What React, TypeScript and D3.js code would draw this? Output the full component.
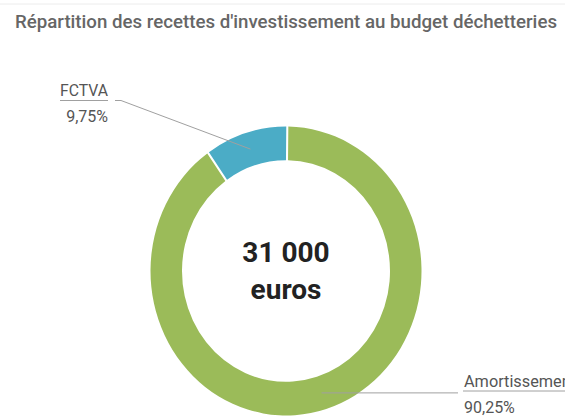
import * as d3 from 'd3'

const title = "Répartition des recettes d'investissement au budget déchetteries"
const categories = ['FCTVA', 'Amortissement']
const shares = [9.75, 90.25]
const shareLabels = ['9,75%', '90,25%']
const colors = ['#4bacc6', '#9bbb59']
const totalLabel = ['31 000', 'euros']

const width = 565
const height = 416
const cx = 286
const cy = 271
const outerR = 135.5
const innerR = 104
const yStretch = 1.066
const font = 'Roboto, "DejaVu Sans", sans-serif'

const App = () => {
	// small slice ends at twelve o'clock, big one runs clockwise from there
	const start = (-shares[0] / d3.sum(shares)) * 2 * Math.PI
	const pie = d3
		.pie<number>()
		.sort(null)
		.value((d) => d)
		.startAngle(start)
		.endAngle(start + 2 * Math.PI)
		.padAngle(0.012)
	const slices = pie(shares)

	const arc = d3.arc<d3.PieArcDatum<number>>().innerRadius(innerR).outerRadius(outerR)
	const midR = (innerR + outerR) / 2
	const midArc = d3.arc<d3.PieArcDatum<number>>().innerRadius(midR).outerRadius(midR)

	const anchor = (i: number): [number, number] => {
		const [x, y] = midArc.centroid(slices[i])
		return [cx + x, cy + y * yStretch]
	}
	const fcPoint = anchor(0)
	const amPoint = anchor(1)

	const line = d3.line()

	return (
		<svg width={width} height={height} style={{ display: 'block', position: 'absolute', left: 0, top: 0, overflow: 'hidden' }}>
			<line x1={0} x2={width} y1={4} y2={4} stroke="#ececec" strokeWidth={1} />
			<text x={15} y={28} fontFamily={font} fontSize={17.5} fontWeight={500} fill="#666" textLength={542} lengthAdjust="spacingAndGlyphs">
				{title}
			</text>

			<g transform={`translate(${cx},${cy}) scale(1,${yStretch})`}>
				{slices.map((s, i) => (
					<path key={categories[i]} d={arc(s) || ''} fill={colors[i]} />
				))}
			</g>

			<text x={cx} y={262} textAnchor="middle" fontFamily={font} fontSize={28} fontWeight={700} fill="#222">
				{totalLabel[0]}
			</text>
			<text x={cx} y={299} textAnchor="middle" fontFamily={font} fontSize={28} fontWeight={700} fill="#222">
				{totalLabel[1]}
			</text>

			{/* FCTVA label */}
			<path
				d={line([[115, 100.5], [121, 100.5], fcPoint]) || ''}
				fill="none"
				stroke="#a0a0a0"
				strokeWidth={1}
			/>
			<text x={108} y={96} textAnchor="end" fontFamily={font} fontSize={16} fill="#555" textLength={48} lengthAdjust="spacingAndGlyphs">
				{categories[0]}
			</text>
			<line x1={60} x2={108} y1={100.5} y2={100.5} stroke="#a0a0a0" strokeWidth={1} />
			<text x={108} y={122} textAnchor="end" fontFamily={font} fontSize={16} fill="#555">
				{shareLabels[0]}
			</text>

			{/* Amortissement label, runs off the right edge as in the source */}
			<path d={line([amPoint, [458, amPoint[1]]]) || ''} fill="none" stroke="#a0a0a0" strokeWidth={1} />
			<text x={464} y={387} fontFamily={font} fontSize={16} fill="#555" textLength={112} lengthAdjust="spacingAndGlyphs">
				{categories[1]}
			</text>
			<line x1={463} x2={width} y1={391} y2={391} stroke="#a0a0a0" strokeWidth={1} />
			<text x={464} y={413} fontFamily={font} fontSize={16} fill="#555">
				{shareLabels[1]}
			</text>
		</svg>
	)
}

export default App
